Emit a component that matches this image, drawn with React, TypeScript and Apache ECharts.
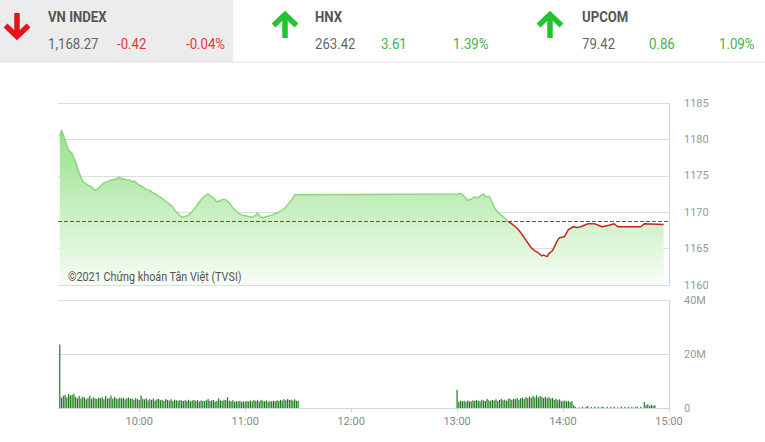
import React, { useEffect, useRef } from "react";
import * as echarts from "echarts";

// ---------- Header data ----------
const indexNames = ["VN INDEX", "HNX", "UPCOM"];
const indexValues = ["1,168.27", "263.42", "79.42"];
const indexChanges = ["-0.42", "3.61", "0.86"];
const indexPercents = ["-0.04%", "1.39%", "1.09%"];
const indexUp = [false, true, true];

// ---------- Price (VN-Index intraday) ----------
const prevClose = 1168.69;
const priceTicks = [1160, 1165, 1170, 1175, 1180, 1185];
const priceTimes = [
  "09:15", "09:16", "09:17", "09:18", "09:19", "09:20", "09:21", "09:22", "09:23", "09:24",
  "09:25", "09:26", "09:27", "09:28", "09:30", "09:31", "09:33", "09:34", "09:35", "09:36",
  "09:38", "09:40", "09:42", "09:44", "09:46", "09:48", "09:49", "09:50", "09:51", "09:53",
  "09:55", "09:56", "09:57", "09:59", "10:01", "10:02", "10:04", "10:06", "10:07", "10:09",
  "10:11", "10:13", "10:15", "10:17", "10:19", "10:20", "10:22", "10:24", "10:26", "10:28",
  "10:30", "10:32", "10:34", "10:36", "10:38", "10:39", "10:40", "10:41", "10:42", "10:44",
  "10:46", "10:48", "10:49", "10:51", "10:53", "10:56", "10:58", "11:00", "11:02", "11:04",
  "11:06", "11:07", "11:08", "11:10", "11:12", "11:15", "11:17", "11:19", "11:21", "11:23",
  "11:25", "11:27", "11:28", "11:30",
  "13:00", "13:02", "13:04", "13:06", "13:08", "13:10", "13:12", "13:14", "13:15", "13:16",
  "13:18", "13:19", "13:21", "13:23", "13:25", "13:27", "13:29", "13:31", "13:34", "13:36",
  "13:38", "13:40", "13:42", "13:44", "13:46", "13:48", "13:49", "13:51", "13:52", "13:54",
  "13:55", "13:57", "13:58", "14:00", "14:01", "14:03", "14:05", "14:06", "14:08", "14:10",
  "14:12", "14:14", "14:18", "14:20", "14:22", "14:24", "14:26", "14:29", "14:31", "14:44",
  "14:46", "14:57"
];
const priceValues = [
  1180.4, 1181.3, 1180.6, 1179.9, 1179.2, 1178.5, 1178.3, 1178.1, 1177.4, 1176.9,
  1176.1, 1175.4, 1174.8, 1174.2, 1173.9, 1173.7, 1173.5, 1173.2, 1173.0, 1173.1,
  1173.6, 1174.0, 1174.2, 1174.4, 1174.5, 1174.7, 1174.8, 1174.5, 1174.6, 1174.4,
  1174.4, 1174.1, 1174.3, 1173.9, 1173.6, 1173.5, 1173.1, 1173.0, 1172.8, 1172.5,
  1172.2, 1171.9, 1171.5, 1171.1, 1170.7, 1170.3, 1169.8, 1169.3, 1169.4, 1169.6,
  1170.1, 1170.7, 1171.4, 1172.0, 1172.4, 1172.5, 1172.3, 1172.1, 1172.0, 1171.4,
  1171.6, 1171.8, 1171.7, 1171.3, 1170.6, 1169.9, 1169.6, 1169.5, 1169.4, 1169.3,
  1169.6, 1169.9, 1169.5, 1169.2, 1169.4, 1169.6, 1169.8, 1170.0, 1170.3, 1170.7,
  1171.3, 1171.9, 1172.4, 1172.4,
  1172.5, 1172.6, 1172.2, 1171.6, 1171.8, 1172.1, 1172.0, 1172.4, 1172.5, 1172.1,
  1172.2, 1171.8, 1170.7, 1170.0, 1169.6, 1169.2, 1168.7, 1168.4, 1167.8, 1167.2,
  1166.5, 1165.8, 1165.1, 1164.7, 1164.4, 1164.0, 1164.1, 1163.9, 1164.3, 1164.7,
  1165.2, 1166.2, 1166.5, 1166.6, 1166.7, 1167.6, 1167.9, 1168.0, 1167.9, 1168.0,
  1168.2, 1168.4, 1168.4, 1168.2, 1168.0, 1168.1, 1168.2, 1168.4, 1168.0, 1168.0,
  1168.4, 1168.3
];

// ---------- Volume (millions, one bar per minute) ----------
const volumeTicks = [0, 20, 40];
const volMorningStart = "09:15";
const volMorning = [
  23.5,
  3.8, 4.5, 4.9, 4.0, 5.2, 4.6, 4.8, 5.3, 4.1, 3.6,
  4.4, 3.5, 4.2, 3.9, 3.2, 3.7, 4.5, 3.4, 3.9, 3.6,
  3.3, 3.8, 3.6, 4.0, 3.2, 4.4, 3.5, 3.7, 4.6, 3.4,
  4.1, 3.6, 3.3, 3.9, 3.5, 3.8, 3.2, 3.6, 3.9, 3.4,
  3.5, 3.1, 3.7, 3.3, 3.0, 4.6, 3.4, 3.2, 3.6, 2.9,
  3.3, 3.0, 3.5, 2.8, 3.2, 3.4, 2.9, 3.1, 2.7, 3.3,
  3.0, 2.8, 3.2, 2.6, 3.1, 2.9, 2.7, 3.0, 2.8, 2.6,
  2.9, 2.7, 3.1, 2.5, 2.8, 3.0, 2.6, 2.9, 2.4, 2.8,
  2.7, 2.5, 2.9, 3.3, 2.6, 2.8, 3.0, 2.4, 2.7, 3.6,
  2.8, 2.6, 3.1, 2.9, 4.0, 2.7, 2.5, 2.9, 2.3, 2.6,
  2.4, 2.7, 2.2, 2.5, 2.3, 2.6, 2.4, 2.8, 2.5, 3.0,
  2.6, 2.9, 2.4, 3.1, 2.7, 2.5, 2.8, 2.3, 2.6, 2.4,
  2.7, 2.5, 2.9, 2.6, 3.0, 2.8, 3.2, 2.9, 3.3, 3.0,
  3.1, 2.8, 3.2, 2.7, 2.6
];
const volAfternoonStart = "13:00";
const volAfternoon = [
  6.8,
  2.3, 2.7, 2.4, 2.6, 2.2, 2.8, 2.5, 2.4, 2.9, 2.6,
  3.0, 2.7, 2.5, 3.1, 2.8, 2.6, 3.3, 2.9, 2.7, 3.0,
  2.8, 3.2, 2.6, 3.0, 3.4, 2.9, 3.1, 2.7, 3.3, 3.5,
  3.0, 3.4, 3.2, 3.7, 3.1, 3.6, 3.9, 3.3, 4.1, 3.6,
  4.3, 3.8, 4.5, 4.0, 4.7, 3.9, 4.4, 4.1, 3.7, 4.2,
  3.6, 4.0, 3.4, 3.7, 3.1, 3.3, 2.9, 3.2, 2.7, 2.5,
  2.8, 2.4, 2.7, 2.2, 2.5, 1.0,
  0.4, 0, 0.3, 0, 0.5, 0, 0.4, 0.7, 0, 0.4,
  0, 0.5, 0, 0.4, 0, 0.6, 0.3, 0, 0.5, 0,
  0.4, 0, 0.5, 0, 0.3, 0, 0.6, 0, 0.4, 0,
  0.5, 0, 0.4, 0, 0.3, 0.6, 0, 0.5, 0,
  2.2, 1.0, 1.4, 0.7, 1.2, 0.8, 1.0
];

// ---------- Time axis (one category per minute) ----------
const timeAxisStart = "09:14";
const timeAxisEnd = "15:00";

const toMin = (s: string) => {
  const [h, m] = s.split(":").map(Number);
  return h * 60 + m;
};
const fmtMin = (v: number) => `${Math.floor(v / 60)}:${String(v % 60).padStart(2, "0")}`;

const FONT = "Roboto, 'Noto Sans', sans-serif";

function arrow(cx: number, up: boolean, color: string) {
  const head = up
    ? [[cx - 11.5, 25.5], [cx, 14.5], [cx + 11.5, 25.5]]
    : [[cx - 11.5, 25.5], [cx, 36.5], [cx + 11.5, 25.5]];
  return [
    {
      type: "line",
      shape: up ? { x1: cx, y1: 16, x2: cx, y2: 38 } : { x1: cx, y1: 13, x2: cx, y2: 35 },
      style: { stroke: color, lineWidth: 5.5, lineCap: "butt" },
      z: 100,
    },
    {
      type: "polyline",
      shape: { points: head },
      style: { stroke: color, lineWidth: 5.5, lineJoin: "miter", lineCap: "butt", fill: "none" },
      z: 100,
    },
  ];
}

export default function App() {
  const ref = useRef<HTMLDivElement>(null);

  useEffect(() => {
    if (!ref.current) return;
    const chart = echarts.init(ref.current, undefined, { renderer: "svg" });

    const startMin = toMin(timeAxisStart);
    const endMin = toMin(timeAxisEnd);
    const categories: string[] = [];
    for (let m = startMin; m <= endMin; m++) categories.push(fmtMin(m));
    const n = categories.length;

    const priceSeries: (number | null)[] = new Array(n).fill(null);
    priceTimes.forEach((t, i) => {
      priceSeries[toMin(t) - startMin] = priceValues[i];
    });
    const volSeries: (number | null)[] = new Array(n).fill(null);
    const m0 = toMin(volMorningStart) - startMin;
    volMorning.forEach((v, i) => (volSeries[m0 + i] = v));
    const a0 = toMin(volAfternoonStart) - startMin;
    volAfternoon.forEach((v, i) => (volSeries[a0 + i] = v));

    const isHour = (idx: number) => idx > 0 && categories[idx].endsWith(":00");

    // line colour: green above the reference price, red below (hard stop in the line's bbox)
    const maxV = Math.max(...priceValues);
    const minV = Math.min(...priceValues);
    const cut = (maxV - prevClose) / (maxV - minV);
    const lineGreen = "#8bd67f";
    const lineRed = "#c0261c";
    const lineGradient = new echarts.graphic.LinearGradient(0, 0, 0, 1, [
      { offset: 0, color: lineGreen },
      { offset: cut, color: lineGreen },
      { offset: cut, color: lineRed },
      { offset: 1, color: lineRed },
    ]);

    const red = "#e03a3a";
    const green = "#3cb44b";
    const headerX = [
      { arrow: 17, name: 48, value: 48, change: 117, pct: 186 },
      { arrow: 285, name: 315, value: 315, change: 381, pct: 453 },
      { arrow: 550, name: 582, value: 582, change: 649, pct: 719 },
    ];
    const graphics: any[] = [
      { type: "rect", shape: { x: 0, y: 0, width: 233, height: 62 }, style: { fill: "#ececec" }, z: 90 },
      { type: "rect", shape: { x: 0, y: 61.5, width: 765, height: 1 }, style: { fill: "#e2e2e2" }, z: 90 },
    ];
    indexNames.forEach((name, i) => {
      const pos = headerX[i];
      const col = indexUp[i] ? green : red;
      graphics.push(...arrow(pos.arrow, indexUp[i], indexUp[i] ? "#22c32e" : "#e3141b"));
      graphics.push({
        type: "text", x: pos.name, y: 17, scaleX: 0.94, z: 100,
        style: { text: name, fill: "#555", font: `bold 14px ${FONT}`, verticalAlign: "middle" },
      });
      graphics.push({
        type: "text", x: pos.value, y: 43.5, scaleX: 0.88, z: 100,
        style: { text: indexValues[i], fill: "#666", font: `15px ${FONT}`, verticalAlign: "middle" },
      });
      graphics.push({
        type: "text", x: pos.change, y: 43.5, scaleX: 0.88, z: 100,
        style: { text: indexChanges[i], fill: col, font: `15px ${FONT}`, verticalAlign: "middle" },
      });
      graphics.push({
        type: "text", x: pos.pct, y: 43.5, scaleX: 0.88, z: 100,
        style: { text: indexPercents[i], fill: col, font: `15px ${FONT}`, verticalAlign: "middle" },
      });
    });
    graphics.push({
      type: "text", x: 68, y: 277, scaleX: 0.9, z: 100,
      style: { text: "©2021 Chứng khoán Tân Việt (TVSI)", fill: "#555", font: `12px ${FONT}`, verticalAlign: "middle" },
    });

    const axisLineColor = "#c9d6df";
    const splitColor = "#dcdcdc";

    chart.setOption({
      animation: false,
      backgroundColor: "#fff",
      graphic: graphics,
      grid: [
        { left: 58, right: 96, top: 103, height: 182 },
        { left: 58, right: 96, top: 300, height: 108 },
      ],
      xAxis: [
        { type: "category", gridIndex: 0, data: categories, boundaryGap: false, show: false },
        {
          type: "category", gridIndex: 1, data: categories, boundaryGap: false,
          splitLine: { show: false },
          axisLine: { show: true, lineStyle: { color: axisLineColor } },
          axisTick: { show: true, length: 4, lineStyle: { color: axisLineColor }, interval: (i: number) => isHour(i) },
          axisLabel: {
            color: "#888", fontSize: 11, fontFamily: FONT, margin: 8,
            interval: (i: number) => isHour(i),
          },
        },
      ],
      yAxis: [
        {
          type: "value", gridIndex: 0, position: "right",
          min: priceTicks[0], max: priceTicks[priceTicks.length - 1], interval: 5,
          axisLine: { show: true, lineStyle: { color: axisLineColor } },
          axisTick: { show: false },
          splitLine: { show: true, lineStyle: { color: splitColor } },
          axisLabel: {
            color: "#999", fontSize: 11, fontFamily: FONT, margin: 15,
            formatter: (v: number) => String(v),
          },
        },
        {
          type: "value", gridIndex: 1, position: "right",
          min: volumeTicks[0], max: volumeTicks[volumeTicks.length - 1], interval: 20,
          axisLine: { show: true, lineStyle: { color: axisLineColor } },
          axisTick: { show: false },
          splitLine: { show: true, lineStyle: { color: splitColor } },
          axisLabel: {
            color: "#999", fontSize: 11, fontFamily: FONT, margin: 15,
            formatter: (v: number) => (v === 0 ? "0" : `${v}M`),
          },
        },
      ],
      series: [
        {
          type: "line", xAxisIndex: 0, yAxisIndex: 0, data: priceSeries,
          connectNulls: true, showSymbol: false, symbol: "none",
          lineStyle: { width: 1.5, color: lineGradient },
          itemStyle: { color: lineGreen },
          areaStyle: {
            origin: "start",
            color: new echarts.graphic.LinearGradient(0, 0, 0, 1, [
              { offset: 0, color: "#98e08b" },
              { offset: 0.5, color: "#c6efbf" },
              { offset: 1, color: "#f8fdf7" },
            ]),
            opacity: 1,
          },
          markLine: {
            silent: true, symbol: ["none", "none"], label: { show: false },
            lineStyle: { color: "#a8392b", type: [4, 2], width: 1, opacity: 1 },
            data: [{ yAxis: prevClose }],
          },
          z: 3,
        },
        {
          type: "bar", xAxisIndex: 1, yAxisIndex: 1, data: volSeries,
          barWidth: 1.2, itemStyle: { color: "#1f7a1f" },
        },
      ],
    });

    return () => chart.dispose();
  }, []);

  return (
    <div
      ref={ref}
      style={{ position: "fixed", left: 0, top: 0, width: 765, height: 442, background: "#fff" }}
    />
  );
}
